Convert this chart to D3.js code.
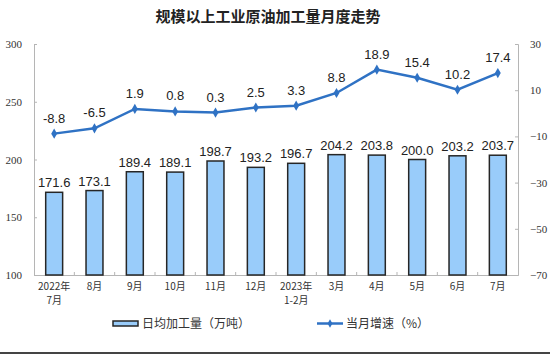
<!DOCTYPE html>
<html>
<head>
<meta charset="utf-8">
<script src="https://cdn.jsdelivr.net/npm/d3@7"></script>
<style>
  body { margin: 0; background: #fff; }
  svg { display: block; }
</style>
</head>
<body>
<div id="chart"></div>
<script>
// podaci
const mjeseci = ["2022年\n7月", "8月", "9月", "10月", "11月", "12月", "2023年\n1-2月", "3月", "4月", "5月", "6月", "7月"];
const dnevnaPrerada = [171.6, 173.1, 189.4, 189.1, 198.7, 193.2, 196.7, 204.2, 203.8, 200.0, 203.2, 203.7];
const rast = [-8.8, -6.5, 1.9, 0.8, 0.3, 2.5, 3.3, 8.8, 18.9, 15.4, 10.2, 17.4];
const lijeviTicks = [100, 150, 200, 250, 300];
const desniTicks = [-70, -50, -30, -10, 10, 30];

const dim = { sirina: 550, visina: 354, margine: { top: 44, right: 32, bottom: 79, left: 34 } };
dim.grSirina = dim.sirina - dim.margine.left - dim.margine.right;
dim.grVisina = dim.visina - dim.margine.top - dim.margine.bottom;

const svg = d3.select("#chart").append("svg")
  .attr("width", dim.sirina)
  .attr("height", dim.visina);

svg.append("text")
  .attr("x", 268).attr("y", 22)
  .attr("text-anchor", "middle")
  .style("font-family", "'Noto Sans CJK SC', sans-serif")
  .style("font-size", "15px")
  .style("font-weight", "bold")
  .style("fill", "#222")
  .text("规模以上工业原油加工量月度走势");

const g = svg.append("g").attr("transform", `translate(${dim.margine.left},${dim.margine.top})`);

const x = d3.scaleBand().domain(mjeseci).range([0, dim.grSirina]).paddingInner(0.58).paddingOuter(0.29);
const yL = d3.scaleLinear().domain([100, 300]).range([dim.grVisina, 0]);
const yR = d3.scaleLinear().domain([-70, 30]).range([dim.grVisina, 0]);

const sivo = "#b5b5b5";
const serif = "'Liberation Serif', 'DejaVu Serif', serif";

// lijeva os
const osL = g.append("g").call(d3.axisLeft(yL).tickValues(lijeviTicks).tickSize(-3).tickPadding(8));
osL.select(".domain").attr("stroke", sivo);
osL.selectAll(".tick line").attr("stroke", sivo);
osL.selectAll("text").attr("x", -10).attr("text-anchor", "end")
  .style("font-family", serif).style("font-size", "11px").style("fill", "#333");
osL.selectAll(".tick text").attr("transform", "translate(-2,0)");

// desna os
const osR = g.append("g").attr("transform", `translate(${dim.grSirina},0)`)
  .call(d3.axisRight(yR).tickValues(desniTicks).tickSize(-3).tickPadding(12));
osR.select(".domain").attr("stroke", sivo);
osR.selectAll(".tick line").attr("stroke", sivo);
osR.selectAll("text").style("font-family", serif).style("font-size", "11px").style("fill", "#333");

// donja os
const osX = g.append("g").attr("transform", `translate(0,${dim.grVisina})`)
  .call(d3.axisBottom(x).tickSize(0).tickFormat(""));
osX.select(".domain").attr("stroke", sivo);
const korak = x.step();
g.append("g").selectAll("line")
  .data(d3.range(1, mjeseci.length))
  .join("line")
  .attr("x1", d => d * korak).attr("x2", d => d * korak)
  .attr("y1", dim.grVisina).attr("y2", dim.grVisina - 3)
  .attr("stroke", sivo);

const oznake = g.append("g").selectAll("text")
  .data(mjeseci)
  .join("text")
  .attr("x", d => x(d) + x.bandwidth() / 2)
  .attr("y", dim.grVisina + 15)
  .attr("text-anchor", "middle")
  .style("font-family", "'Noto Sans CJK SC', serif")
  .style("font-size", "10px")
  .style("fill", "#333");
oznake.each(function(d) {
  const dijelovi = d.split("\n");
  d3.select(this).selectAll("tspan").data(dijelovi).join("tspan")
    .attr("x", x(d) + x.bandwidth() / 2)
    .attr("dy", (p, i) => i === 0 ? 0 : 14)
    .text(p => p);
});

// stupci
g.append("g").selectAll("rect")
  .data(dnevnaPrerada)
  .join("rect")
  .attr("x", (d, i) => x(mjeseci[i]))
  .attr("y", d => yL(d))
  .attr("width", x.bandwidth())
  .attr("height", d => dim.grVisina - yL(d))
  .attr("fill", "#99ccfa")
  .attr("stroke", "#262626")
  .attr("stroke-width", 1.5);

g.append("g").selectAll("text")
  .data(dnevnaPrerada)
  .join("text")
  .attr("x", (d, i) => x(mjeseci[i]) + x.bandwidth() / 2)
  .attr("y", d => yL(d) - 5)
  .attr("text-anchor", "middle")
  .style("font-family", "'Liberation Sans', Arial, sans-serif")
  .style("font-size", "13px")
  .style("fill", "#222")
  .text(d => d.toFixed(1));

// linija
const plava = "#2f72c4";
const linija = d3.line()
  .x((d, i) => x(mjeseci[i]) + x.bandwidth() / 2)
  .y(d => yR(d));

g.append("path")
  .datum(rast)
  .attr("d", linija)
  .attr("fill", "none")
  .attr("stroke", plava)
  .attr("stroke-width", 2.5);

g.append("g").selectAll("path")
  .data(rast)
  .join("path")
  .attr("d", d3.symbol(d3.symbolDiamond, 30))
  .attr("transform", (d, i) => `translate(${x(mjeseci[i]) + x.bandwidth() / 2},${yR(d)})`)
  .attr("fill", plava);

g.append("g").selectAll("text")
  .data(rast)
  .join("text")
  .attr("x", (d, i) => x(mjeseci[i]) + x.bandwidth() / 2)
  .attr("y", d => yR(d) - 11)
  .attr("text-anchor", "middle")
  .style("font-family", "'Liberation Sans', Arial, sans-serif")
  .style("font-size", "13px")
  .style("fill", "#222")
  .text(d => d.toFixed(1));

// legenda
const leg = svg.append("g").style("font-family", "'Noto Sans CJK SC', sans-serif").style("font-size", "12px").style("fill", "#333");
leg.append("rect").attr("x", 113).attr("y", 321).attr("width", 25).attr("height", 5)
  .attr("fill", "#99ccfa").attr("stroke", "#262626").attr("stroke-width", 1.5);
leg.append("text").attr("x", 142).attr("y", 328).text("日均加工量（万吨）");
leg.append("line").attr("x1", 317).attr("x2", 343).attr("y1", 323.5).attr("y2", 323.5)
  .attr("stroke", plava).attr("stroke-width", 2.5);
leg.append("path").attr("d", d3.symbol(d3.symbolDiamond, 20))
  .attr("transform", "translate(330,323.5)").attr("fill", plava);
leg.append("text").attr("x", 346).attr("y", 328).text("当月增速（%）");

// donja crta
svg.append("line").attr("x1", 0).attr("x2", dim.sirina).attr("y1", 353).attr("y2", 353)
  .attr("stroke", "#444").attr("stroke-width", 2);
</script>
</body>
</html>
